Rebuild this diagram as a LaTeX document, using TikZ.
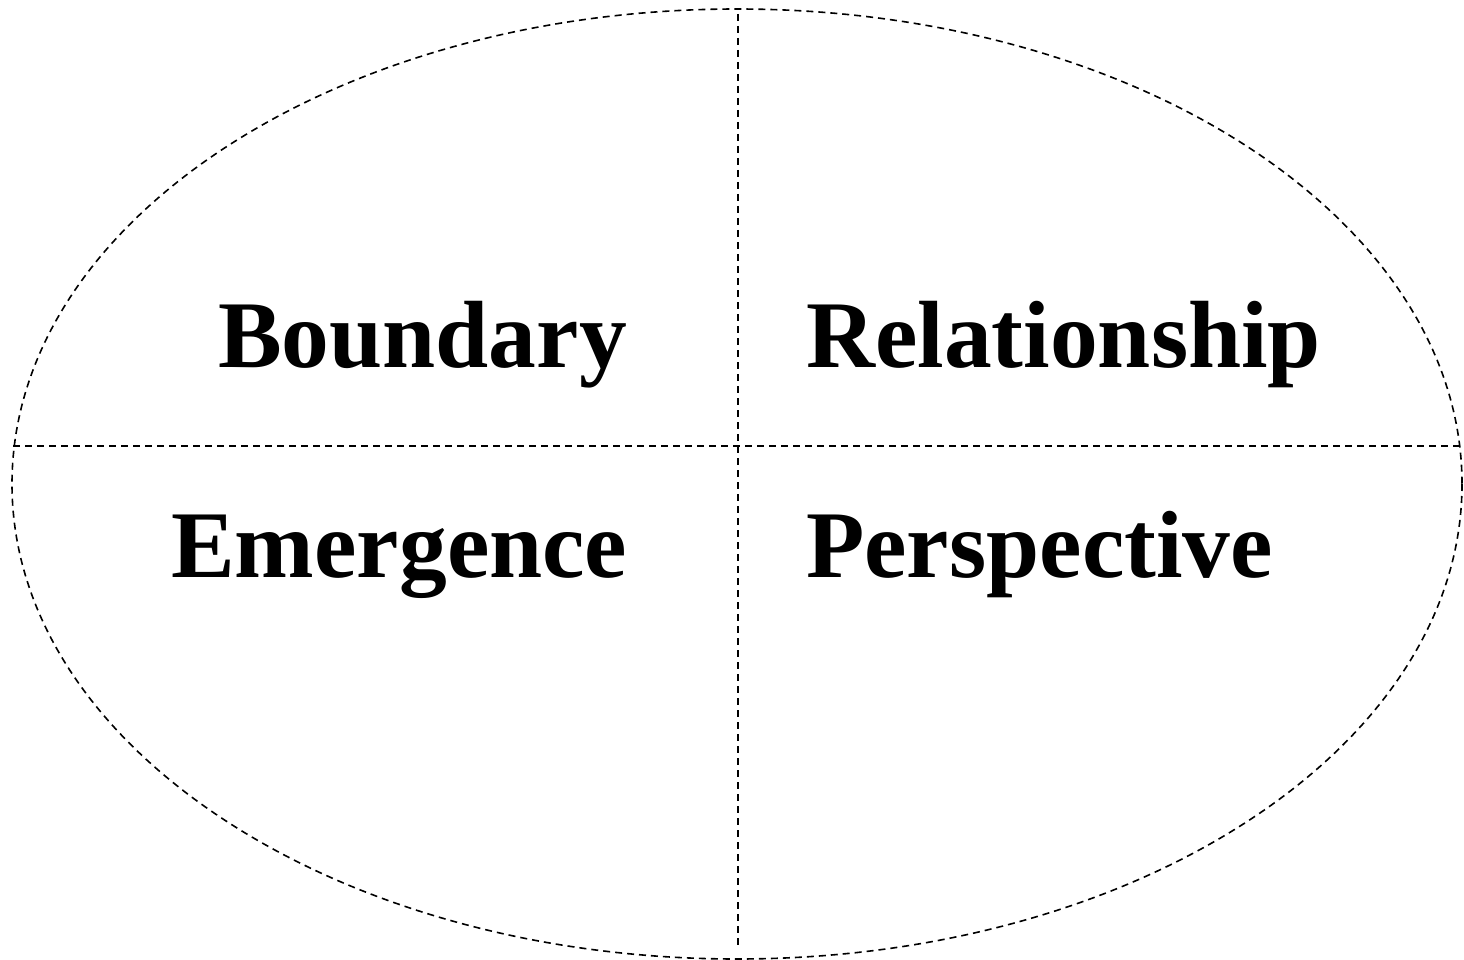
\documentclass[tikz,border=0pt]{standalone}
\usepackage{fontspec}
\setmainfont{Liberation Serif}
\begin{document}
\begin{tikzpicture}[x=1pt,y=-1pt,
  dashline/.style={draw=black,line width=1.6pt,dash pattern=on 7pt off 5pt},
  word/.style={anchor=base west,inner sep=0pt,font=\fontsize{95.5}{110}\selectfont\bfseries}]
\useasboundingbox (0,0) rectangle (1464,960);
\draw[dashline] (737,484) ellipse [x radius=725, y radius=475];
\coordinate (hl) at (13,446);
\coordinate (hr) at (1461,446);
\coordinate (vt) at (738,14);
\coordinate (vb) at (738,947);
\draw[dashline] (hl) -- (hr);
\draw[dashline] (vt) -- (vb);
\node[word] (b) at (218,367) {Boundary};
\node[word] (r) at (806,367) {Relationship};
\node[word] (e) at (171,577) {Emergence};
\node[word] (p) at (806,577) {Perspective};
\end{tikzpicture}
\end{document}
